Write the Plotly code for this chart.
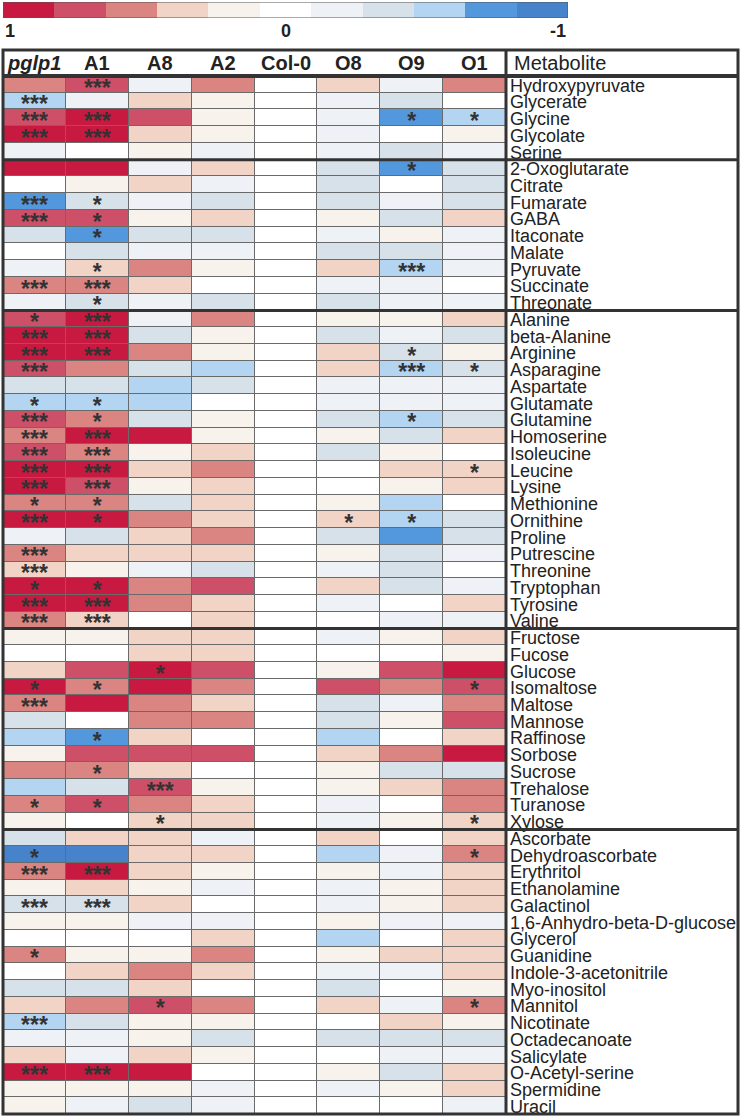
import plotly.graph_objects as go

# metabolite names, one list per compound class (top to bottom)
photorespiration = ["Hydroxypyruvate", "Glycerate", "Glycine", "Glycolate", "Serine"]
tca_cycle = ["2-Oxoglutarate", "Citrate", "Fumarate", "GABA", "Itaconate", "Malate",
             "Pyruvate", "Succinate", "Threonate"]
amino_acids = ["Alanine", "beta-Alanine", "Arginine", "Asparagine", "Aspartate",
               "Glutamate", "Glutamine", "Homoserine", "Isoleucine", "Leucine",
               "Lysine", "Methionine", "Ornithine", "Proline", "Putrescine",
               "Threonine", "Tryptophan", "Tyrosine", "Valine"]
sugars = ["Fructose", "Fucose", "Glucose", "Isomaltose", "Maltose", "Mannose",
          "Raffinose", "Sorbose", "Sucrose", "Trehalose", "Turanose", "Xylose"]
others = ["Ascorbate", "Dehydroascorbate", "Erythritol", "Ethanolamine", "Galactinol",
          "1,6-Anhydro-beta-D-glucose", "Glycerol", "Guanidine", "Indole-3-acetonitrile",
          "Myo-inositol", "Mannitol", "Nicotinate", "Octadecanoate", "Salicylate",
          "O-Acetyl-serine", "Spermidine", "Uracil"]

lines = ["pglp1", "A1", "A8", "A2", "Col-0", "O8", "O9", "O1"]

# colour bin per line (5 = strongest increase ... -5 = strongest decrease)
pglp1 = [3, -3, 4, 5, -1,
         5, 0, -4, 4, -2, 0, -1, 3, -1,
         4, 5, 5, 4, -2, -3, 4, 3, 4, 5, 5, 3, 5, -1, 3, 2, 5, 5, 3,
         1, 0, 2, 5, 3, -2, -3, 1, 3, -3, 3, 1,
         -2, -5, 3, 1, -2, 1, 0, 3, 0, -2, 2, -3, -1, 2, 5, 1, 1]
a1 = [4, -1, 5, 5, 0,
      5, 1, -2, 4, -4, -2, 2, 3, -2,
      5, 5, 5, 3, -2, -3, 3, 5, 3, 5, 4, 3, 5, -2, 2, 1, 5, 5, 2,
      1, 0, 4, 3, 5, 0, -4, 4, 3, -2, 4, 0,
      2, -5, 5, 2, -2, 1, 0, 1, 2, -2, 3, -2, -1, -1, 5, 1, -1]
a8 = [-1, 2, 4, 2, 1,
      -1, 2, -1, 1, -2, -1, 3, 2, -1,
      -1, -2, 3, -2, -3, -3, -2, 5, 1, 2, 1, -2, 3, 2, 2, -1, 3, 3, 0,
      2, 2, 5, 5, 3, 3, 2, 4, 2, 4, 3, 2,
      2, 2, 2, 1, 2, -1, 0, 1, 3, 2, 4, 1, 1, 2, 5, 1, -2]
a2 = [3, 1, 1, 1, -1,
      2, -1, -2, 2, -2, -1, 1, 0, -2,
      3, 1, 1, -3, -2, 0, 1, 1, 2, 3, 2, 2, 2, 3, 2, -2, 4, 2, 2,
      2, 2, 4, 3, 2, 3, 0, 4, 0, 1, 2, 2,
      -1, 2, 1, -1, 0, -1, 2, 3, 2, 0, 3, 1, -2, 1, 0, -1, -1]
col0 = [0] * 62
o8 = [2, -1, -1, -1, -1,
      -2, -2, -2, 1, -1, -2, 2, -1, -2,
      1, -2, 2, 2, -1, -1, -2, 1, -2, 0, 0, 1, 2, -2, 1, -1, 2, -1, 0,
      -1, 0, 1, 4, -2, -2, -3, 2, 1, 1, -1, -1,
      2, -3, 1, -1, -1, 1, -3, 1, -1, -2, 2, 0, -2, 0, 1, -1, 0]
o9 = [-1, -2, -4, 0, -2,
      -4, 0, -1, -2, 1, -2, -3, -1, -1,
      1, -1, -2, -3, -1, -1, -3, -2, 1, 2, 1, -3, -3, -4, -2, -2, -2, 0, -1,
      1, 0, 4, 3, -1, 1, 0, 3, -2, 2, 0, 1,
      0, -1, -1, 1, 1, -1, 0, 2, -1, 0, -1, 2, -2, -1, -2, 1, 0]
o1 = [3, 0, -3, 1, -1,
      -2, -2, -2, 2, -1, -1, -1, 0, -1,
      2, -2, 1, -2, -1, -1, -2, 2, 0, 2, 2, 0, -2, -2, -1, 0, -1, 2, -1,
      2, 1, 5, 4, 3, 4, 2, 5, -2, 3, 3, 2,
      2, 3, 2, 2, 2, -1, 2, 2, 2, 1, 3, 1, -2, -1, 2, 2, -1]

# significance marks (metabolite, line, mark)
marks = [
    ("Glycerate", "pglp1", "***"), ("Glycine", "pglp1", "***"), ("Glycolate", "pglp1", "***"),
    ("Fumarate", "pglp1", "***"), ("GABA", "pglp1", "***"), ("Succinate", "pglp1", "***"),
    ("Alanine", "pglp1", "*"), ("beta-Alanine", "pglp1", "***"), ("Arginine", "pglp1", "***"),
    ("Asparagine", "pglp1", "***"), ("Glutamate", "pglp1", "*"), ("Glutamine", "pglp1", "***"),
    ("Homoserine", "pglp1", "***"), ("Isoleucine", "pglp1", "***"), ("Leucine", "pglp1", "***"),
    ("Lysine", "pglp1", "***"), ("Methionine", "pglp1", "*"), ("Ornithine", "pglp1", "***"),
    ("Putrescine", "pglp1", "***"), ("Threonine", "pglp1", "***"), ("Tryptophan", "pglp1", "*"),
    ("Tyrosine", "pglp1", "***"), ("Valine", "pglp1", "***"), ("Isomaltose", "pglp1", "*"),
    ("Maltose", "pglp1", "***"), ("Turanose", "pglp1", "*"), ("Dehydroascorbate", "pglp1", "*"),
    ("Erythritol", "pglp1", "***"), ("Galactinol", "pglp1", "***"), ("Guanidine", "pglp1", "*"),
    ("Nicotinate", "pglp1", "***"), ("O-Acetyl-serine", "pglp1", "***"),
    ("Hydroxypyruvate", "A1", "***"), ("Glycine", "A1", "***"), ("Glycolate", "A1", "***"),
    ("Fumarate", "A1", "*"), ("GABA", "A1", "*"), ("Itaconate", "A1", "*"),
    ("Pyruvate", "A1", "*"), ("Succinate", "A1", "***"), ("Threonate", "A1", "*"),
    ("Alanine", "A1", "***"), ("beta-Alanine", "A1", "***"), ("Arginine", "A1", "***"),
    ("Glutamate", "A1", "*"), ("Glutamine", "A1", "*"), ("Homoserine", "A1", "***"),
    ("Isoleucine", "A1", "***"), ("Leucine", "A1", "***"), ("Lysine", "A1", "***"),
    ("Methionine", "A1", "*"), ("Ornithine", "A1", "*"), ("Tryptophan", "A1", "*"),
    ("Tyrosine", "A1", "***"), ("Valine", "A1", "***"), ("Isomaltose", "A1", "*"),
    ("Raffinose", "A1", "*"), ("Sucrose", "A1", "*"), ("Turanose", "A1", "*"),
    ("Erythritol", "A1", "***"), ("Galactinol", "A1", "***"), ("O-Acetyl-serine", "A1", "***"),
    ("Glucose", "A8", "*"), ("Trehalose", "A8", "***"), ("Xylose", "A8", "*"),
    ("Mannitol", "A8", "*"),
    ("Ornithine", "O8", "*"),
    ("Glycine", "O9", "*"), ("2-Oxoglutarate", "O9", "*"), ("Pyruvate", "O9", "***"),
    ("Arginine", "O9", "*"), ("Asparagine", "O9", "***"), ("Glutamine", "O9", "*"),
    ("Ornithine", "O9", "*"),
    ("Glycine", "O1", "*"), ("Asparagine", "O1", "*"), ("Leucine", "O1", "*"),
    ("Isomaltose", "O1", "*"), ("Xylose", "O1", "*"), ("Dehydroascorbate", "O1", "*"),
    ("Mannitol", "O1", "*"),
]

bin_colors = ["#4783CB", "#5398DD", "#B3D5F2", "#D6E1EA", "#EEF1F5", "#FFFFFF",
              "#F8F2EC", "#F2D4C6", "#DA8581", "#CD5068", "#C81A40"]
legend_bins = [5, 4, 3, 2, 1, 0, -1, -2, -3, -4, -5]

groups = [photorespiration, tca_cycle, amino_acids, sugars, others]
metabolites = [m for g in groups for m in g]
n = len(metabolites)
columns = [pglp1, a1, a8, a2, col0, o8, o9, o1]
z = [list(r) for r in zip(*columns)]

# stepped colour scale, one block per bin
scale = []
for i, c in enumerate(bin_colors):
    scale.append([i / len(bin_colors), c])
    scale.append([(i + 1) / len(bin_colors), c])

W, H = 742, 1118
px = lambda v: v / W
py = lambda v: 1 - v / H
left, split, right = 3, 506, 738
head_top, head_bot, bottom = 50, 76, 1114
font = "Liberation Sans, Arial, sans-serif"

fig = go.Figure()
fig.add_trace(go.Heatmap(z=z, x=list(range(8)), y=list(range(n)), colorscale=scale,
                         zmin=-5.5, zmax=5.5, xgap=1, ygap=1, showscale=False,
                         hoverinfo="skip"))

# asterisks
mx = [lines.index(c) for m, c, s in marks]
my = [metabolites.index(m) + 0.33 for m, c, s in marks]
fig.add_trace(go.Scatter(x=mx, y=my, mode="text", text=["<b>%s</b>" % s for m, c, s in marks],
                         textposition="middle center",
                         textfont=dict(family=font, size=23, color="#333333"),
                         hoverinfo="skip", showlegend=False))

# metabolite names
fig.add_trace(go.Scatter(x=[4] * n, y=[i + 0.16 for i in range(n)], mode="text",
                         text=metabolites, textposition="middle right",
                         textfont=dict(family=font, size=18, color="#222222"),
                         xaxis="x2", yaxis="y", hoverinfo="skip", showlegend=False))

# colour key
fig.add_trace(go.Heatmap(z=[legend_bins], x=list(range(11)), y=[0], colorscale=scale,
                         zmin=-5.5, zmax=5.5, showscale=False, hoverinfo="skip",
                         xaxis="x3", yaxis="y3"))

hidden = dict(visible=False, showgrid=False, zeroline=False, fixedrange=True)
fig.update_layout(
    width=W, height=H, margin=dict(l=0, r=0, t=0, b=0),
    paper_bgcolor="white", plot_bgcolor="white", showlegend=False,
    xaxis=dict(domain=[px(left), px(split)], range=[-0.5, 7.5], anchor="y", **hidden),
    yaxis=dict(domain=[py(bottom), py(head_bot)], range=[n - 0.5, -0.5], anchor="x", **hidden),
    xaxis2=dict(domain=[px(split), px(right)], range=[0, right - split], anchor="y", **hidden),
    xaxis3=dict(domain=[px(3), px(568)], range=[-0.5, 10.5], anchor="y3", **hidden),
    yaxis3=dict(domain=[py(18), py(2)], range=[-0.5, 0.5], anchor="x3", **hidden),
)

shapes = []
# thin cell grid shows through the heatmap gaps
shapes.append(dict(type="rect", xref="x", yref="y", x0=-0.5, x1=7.5, y0=-0.5, y1=n - 0.5,
                   fillcolor="#6a6a6a", line=dict(width=0), layer="below"))
# key frame
shapes.append(dict(type="rect", xref="x3", yref="y3", x0=-0.5, x1=10.5, y0=-0.5, y1=0.5,
                   line=dict(color="#555555", width=1)))
# table frame, header line and name column separator
shapes.append(dict(type="rect", xref="paper", yref="paper", x0=px(left), x1=px(right),
                   y0=py(bottom), y1=py(head_top), line=dict(color="#333333", width=3)))
shapes.append(dict(type="line", xref="paper", yref="paper", x0=px(left), x1=px(right),
                   y0=py(head_bot), y1=py(head_bot), line=dict(color="#333333", width=4)))
shapes.append(dict(type="line", xref="paper", yref="paper", x0=px(split), x1=px(split),
                   y0=py(bottom), y1=py(head_top), line=dict(color="#333333", width=3)))
# class separators
pos = -0.5
for g in groups[:-1]:
    pos += len(g)
    shapes.append(dict(type="line", xref="paper", yref="y", x0=px(left), x1=px(right),
                       y0=pos, y1=pos, line=dict(color="#333333", width=3)))
fig.update_layout(shapes=shapes)

ann = []
for i, name in enumerate(lines):
    label = "<b><i>pglp1</i></b>" if name == "pglp1" else "<b>%s</b>" % name
    ann.append(dict(xref="x", yref="paper", x=i, y=py(63), yanchor="middle", text=label,
                    showarrow=False, font=dict(family=font, size=20, color="#222222")))
ann.append(dict(xref="x2", yref="paper", x=6, y=py(63), xanchor="left", yanchor="middle",
                text="Metabolite", showarrow=False,
                font=dict(family=font, size=20, color="#222222")))
for x, t, anchor in [(-0.5, "1", "left"), (5, "0", "center"), (10.5, "-1", "right")]:
    ann.append(dict(xref="x3", yref="paper", x=x, y=py(31), xanchor=anchor, yanchor="middle",
                    text="<b>%s</b>" % t, showarrow=False,
                    font=dict(family=font, size=18, color="#222222")))
fig.update_layout(annotations=ann)

# drop the default page margin so the figure sits at the window's corner
fig.write_html("out.html", config={"displayModeBar": False},
               post_script="document.body.style.margin='0px';")
